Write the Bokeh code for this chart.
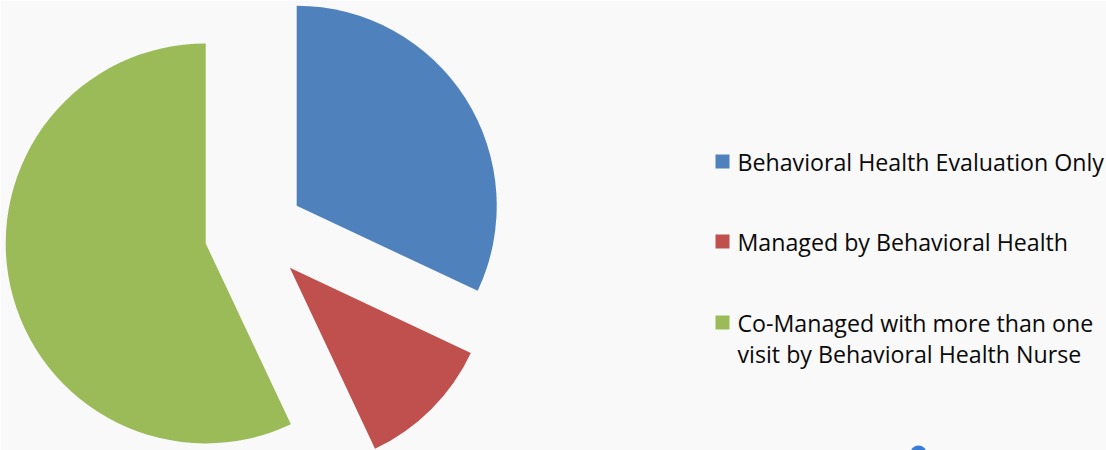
import math
from bokeh.plotting import figure
from bokeh.models import Range1d, ColumnDataSource
from bokeh.core.properties import value
from bokeh.embed import file_html
from bokeh.resources import INLINE

categories = [
    "Behavioral Health Evaluation Only",
    "Managed by Behavioral Health",
    "Co-Managed with more than one visit by Behavioral Health Nurse",
]
shares = [32, 11, 57]
colors = ["#4F81BD", "#C0504D", "#9BBB59"]
legend_lines = [
    ["Behavioral Health Evaluation Only"],
    ["Managed by Behavioral Health"],
    ["Co-Managed with more than one", "visit by Behavioral Health Nurse"],
]

W, H = 1106, 450
p = figure(width=W, height=H, output_backend="svg", toolbar_location=None,
           x_range=Range1d(0, W), y_range=Range1d(0, H), min_border=0)
p.axis.visible = False
p.grid.visible = False
p.outline_line_color = None
p.background_fill_color = "#F9F9F9"
p.border_fill_color = "#F9F9F9"

cx, cy = 254, H - 232
R = 200
explode = 50
total = float(sum(shares))
xs, ys, sa, ea = [], [], [], []
acc = 0.0
for s in shares:
    a0 = acc / total * 360.0
    a1 = (acc + s) / total * 360.0
    mid = math.radians((a0 + a1) / 2)
    xs.append(cx + explode * math.sin(mid))
    ys.append(cy + explode * math.cos(mid))
    sa.append(math.radians(90 - a1))
    ea.append(math.radians(90 - a0))
    acc += s

src = ColumnDataSource(dict(x=xs, y=ys, sa=sa, ea=ea, color=colors, name=categories))
p.wedge(x="x", y="y", radius=R, start_angle="sa", end_angle="ea", fill_color="color",
        line_color=None, source=src)

# legend
lx_sq, lx_txt = 722, 737
item_y = [H - 161, H - 241, H - 322]
line_gap = 31
for i, lines in enumerate(legend_lines):
    p.scatter([lx_sq], [item_y[i]], marker="square", size=14, fill_color=colors[i], line_color=None)
    ty = [item_y[i] - k * line_gap for k in range(len(lines))]
    p.text([lx_txt] * len(lines), ty, text=lines, text_font=value("Open Sans"),
           text_font_size="23.2px", text_baseline="middle", text_align="left", text_color="#0a0a0a")

# small decoration at bottom
p.scatter([918], [-3], marker="circle", size=16, fill_color="#3A7BD5", line_color=None)

open("out.html", "w").write(file_html(p, INLINE))
